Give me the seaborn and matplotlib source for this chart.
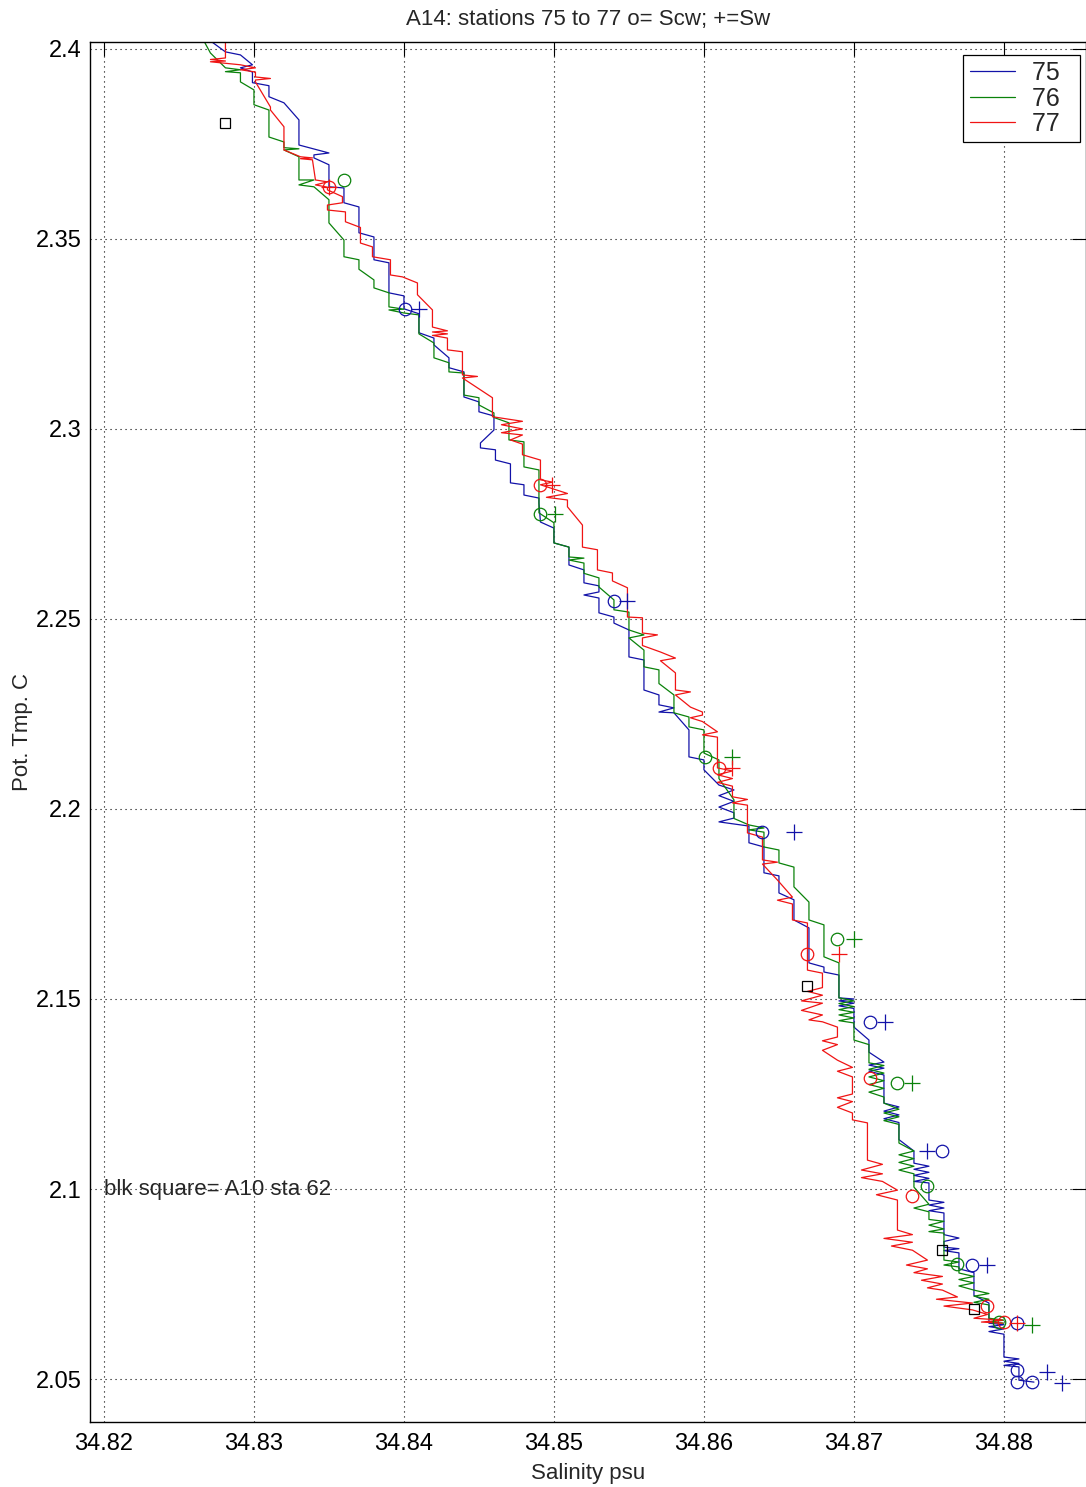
import numpy as np
import pandas as pd
import matplotlib
matplotlib.use("Agg")
import matplotlib.pyplot as plt
import seaborn as sns
from matplotlib.lines import Line2D

# station 75 (blue) salinity / potential temperature trace
sal_75 = [34.8272, 34.8281, 34.8291, 34.8299, 34.8291, 34.8299, 34.8299, 34.8310, 34.8310, 34.8320,
          34.8330, 34.8330, 34.8350, 34.8340, 34.8340, 34.8350, 34.8350, 34.8360, 34.8360, 34.8370,
          34.8370, 34.8380, 34.8380, 34.8390, 34.8390, 34.8400, 34.8400, 34.8410, 34.8410, 34.8420,
          34.8420, 34.8430, 34.8430, 34.8440, 34.8440, 34.8450, 34.8450, 34.8460, 34.8460, 34.8451,
          34.8451, 34.8461, 34.8461, 34.8471, 34.8471, 34.8480, 34.8480, 34.8490, 34.8490, 34.8491,
          34.8500, 34.8500, 34.8510, 34.8510, 34.8520, 34.8520, 34.8530, 34.8530, 34.8520, 34.8530,
          34.8530, 34.8540, 34.8540, 34.8550, 34.8550, 34.8560, 34.8560, 34.8570, 34.8570, 34.8580,
          34.8570, 34.8580, 34.8590, 34.8590, 34.8600, 34.8600, 34.8610, 34.8620, 34.8610, 34.8620,
          34.8610, 34.8620, 34.8620, 34.8610, 34.8630, 34.8630, 34.8640, 34.8640, 34.8650, 34.8650,
          34.8660, 34.8660, 34.8670, 34.8670, 34.8680, 34.8680, 34.8690, 34.8690, 34.8700, 34.8690,
          34.8700, 34.8690, 34.8700, 34.8700, 34.8710, 34.8710, 34.8720, 34.8710, 34.8720, 34.8710,
          34.8720, 34.8720, 34.8730, 34.8720, 34.8730, 34.8720, 34.8730, 34.8730, 34.8730, 34.8740,
          34.8740, 34.8750, 34.8740, 34.8750, 34.8740, 34.8750, 34.8740, 34.8750, 34.8750, 34.8760,
          34.8750, 34.8760, 34.8750, 34.8760, 34.8760, 34.8770, 34.8760, 34.8760, 34.8770, 34.8760,
          34.8770, 34.8770, 34.8780, 34.8780, 34.8790, 34.8790, 34.8800, 34.8790, 34.8800, 34.8790,
          34.8800, 34.8800, 34.8810, 34.8800, 34.8810, 34.8800, 34.8810, 34.8810, 34.8820]
tmp_75 = [2.4018, 2.3992, 2.3984, 2.3958, 2.3950, 2.3939, 2.3911, 2.3903, 2.3874, 2.3858,
          2.3813, 2.3747, 2.3726, 2.3721, 2.3713, 2.3695, 2.3637, 2.3634, 2.3595, 2.3584,
          2.3516, 2.3505, 2.3445, 2.3437, 2.3358, 2.3350, 2.3316, 2.3303, 2.3253, 2.3239,
          2.3221, 2.3187, 2.3161, 2.3150, 2.3084, 2.3071, 2.3045, 2.3034, 2.2997, 2.2963,
          2.2950, 2.2945, 2.2918, 2.2908, 2.2858, 2.2853, 2.2826, 2.2818, 2.2805, 2.2755,
          2.2739, 2.2700, 2.2689, 2.2642, 2.2629, 2.2595, 2.2587, 2.2571, 2.2563, 2.2555,
          2.2516, 2.2505, 2.2489, 2.2471, 2.2400, 2.2392, 2.2313, 2.2300, 2.2274, 2.2266,
          2.2255, 2.2253, 2.2208, 2.2137, 2.2129, 2.2103, 2.2063, 2.2050, 2.2035, 2.2020,
          2.2005, 2.1990, 2.1976, 2.1966, 2.1955, 2.1911, 2.1900, 2.1832, 2.1824, 2.1779,
          2.1761, 2.1708, 2.1687, 2.1595, 2.1584, 2.1571, 2.1563, 2.1503, 2.1500, 2.1495,
          2.1489, 2.1482, 2.1475, 2.1426, 2.1392, 2.1360, 2.1334, 2.1326, 2.1318, 2.1310,
          2.1300, 2.1226, 2.1216, 2.1205, 2.1195, 2.1185, 2.1175, 2.1163, 2.1130, 2.1100,
          2.1068, 2.1060, 2.1052, 2.1044, 2.1036, 2.1028, 2.1020, 2.1016, 2.0971, 2.0965,
          2.0958, 2.0950, 2.0943, 2.0937, 2.0880, 2.0871, 2.0862, 2.0847, 2.0843, 2.0838,
          2.0832, 2.0790, 2.0780, 2.0720, 2.0700, 2.0647, 2.0643, 2.0638, 2.0632, 2.0625,
          2.0618, 2.0558, 2.0553, 2.0547, 2.0541, 2.0536, 2.0532, 2.0497, 2.0492]

# station 76 (green)
sal_76 = [34.8267, 34.8271, 34.8281, 34.8291, 34.8281, 34.8291, 34.8291, 34.8300, 34.8300, 34.8310,
          34.8310, 34.8320, 34.8320, 34.8330, 34.8320, 34.8330, 34.8330, 34.8340, 34.8330, 34.8340,
          34.8350, 34.8350, 34.8360, 34.8360, 34.8370, 34.8370, 34.8380, 34.8380, 34.8390, 34.8390,
          34.8400, 34.8390, 34.8400, 34.8410, 34.8410, 34.8420, 34.8420, 34.8430, 34.8430, 34.8440,
          34.8440, 34.8450, 34.8450, 34.8460, 34.8460, 34.8470, 34.8470, 34.8480, 34.8480, 34.8490,
          34.8490, 34.8500, 34.8500, 34.8510, 34.8510, 34.8520, 34.8510, 34.8520, 34.8520, 34.8530,
          34.8530, 34.8540, 34.8540, 34.8550, 34.8550, 34.8560, 34.8550, 34.8560, 34.8560, 34.8570,
          34.8570, 34.8580, 34.8580, 34.8590, 34.8590, 34.8600, 34.8600, 34.8610, 34.8610, 34.8620,
          34.8620, 34.8630, 34.8640, 34.8630, 34.8640, 34.8640, 34.8650, 34.8650, 34.8660, 34.8660,
          34.8670, 34.8670, 34.8680, 34.8680, 34.8690, 34.8690, 34.8700, 34.8690, 34.8700, 34.8690,
          34.8700, 34.8690, 34.8700, 34.8690, 34.8700, 34.8700, 34.8710, 34.8710, 34.8720, 34.8710,
          34.8720, 34.8710, 34.8720, 34.8710, 34.8720, 34.8710, 34.8720, 34.8720, 34.8730, 34.8720,
          34.8730, 34.8720, 34.8730, 34.8730, 34.8740, 34.8730, 34.8740, 34.8730, 34.8740, 34.8730,
          34.8740, 34.8740, 34.8750, 34.8740, 34.8750, 34.8750, 34.8760, 34.8750, 34.8760, 34.8750,
          34.8760, 34.8760, 34.8760, 34.8770, 34.8760, 34.8770, 34.8770, 34.8780, 34.8770, 34.8780,
          34.8770, 34.8780, 34.8790, 34.8780, 34.8790, 34.8780, 34.8790, 34.8790, 34.8800, 34.8790,
          34.8800]
tmp_76 = [2.4018, 2.3989, 2.3950, 2.3945, 2.3940, 2.3937, 2.3913, 2.3892, 2.3853, 2.3839,
          2.3768, 2.3755, 2.3740, 2.3737, 2.3734, 2.3716, 2.3655, 2.3655, 2.3642, 2.3637,
          2.3603, 2.3542, 2.3497, 2.3453, 2.3445, 2.3420, 2.3392, 2.3371, 2.3358, 2.3321,
          2.3315, 2.3313, 2.3305, 2.3300, 2.3250, 2.3226, 2.3187, 2.3174, 2.3150, 2.3147,
          2.3089, 2.3082, 2.3063, 2.3042, 2.3030, 2.3016, 2.2971, 2.2966, 2.2900, 2.2892,
          2.2779, 2.2753, 2.2700, 2.2689, 2.2663, 2.2660, 2.2655, 2.2647, 2.2620, 2.2608,
          2.2584, 2.2550, 2.2524, 2.2518, 2.2471, 2.2458, 2.2450, 2.2418, 2.2374, 2.2366,
          2.2330, 2.2300, 2.2253, 2.2242, 2.2216, 2.2208, 2.2147, 2.2129, 2.2080, 2.2024,
          2.1975, 2.1958, 2.1950, 2.1945, 2.1939, 2.1900, 2.1892, 2.1858, 2.1847, 2.1795,
          2.1755, 2.1708, 2.1695, 2.1611, 2.1595, 2.1503, 2.1495, 2.1488, 2.1480, 2.1472,
          2.1465, 2.1458, 2.1450, 2.1443, 2.1437, 2.1392, 2.1380, 2.1332, 2.1325, 2.1315,
          2.1305, 2.1295, 2.1285, 2.1275, 2.1265, 2.1255, 2.1242, 2.1226, 2.1210, 2.1200,
          2.1190, 2.1180, 2.1170, 2.1121, 2.1100, 2.1090, 2.1080, 2.1070, 2.1060, 2.1050,
          2.1040, 2.1005, 2.0960, 2.0950, 2.0940, 2.0920, 2.0915, 2.0905, 2.0895, 2.0888,
          2.0884, 2.0858, 2.0813, 2.0808, 2.0800, 2.0795, 2.0779, 2.0770, 2.0762, 2.0753,
          2.0745, 2.0734, 2.0725, 2.0718, 2.0710, 2.0702, 2.0695, 2.0660, 2.0655, 2.0650,
          2.0647]

# station 77 (red)
sal_77 = [34.8281, 34.8281, 34.8271, 34.8281, 34.8271, 34.8291, 34.8301, 34.8291, 34.8301, 34.8301,
          34.8311, 34.8301, 34.8301, 34.8311, 34.8311, 34.8320, 34.8320, 34.8331, 34.8339, 34.8331,
          34.8339, 34.8341, 34.8349, 34.8341, 34.8349, 34.8349, 34.8359, 34.8359, 34.8349, 34.8349,
          34.8361, 34.8361, 34.8371, 34.8371, 34.8379, 34.8379, 34.8391, 34.8391, 34.8399, 34.8409,
          34.8409, 34.8419, 34.8419, 34.8429, 34.8419, 34.8429, 34.8419, 34.8429, 34.8429, 34.8439,
          34.8439, 34.8449, 34.8439, 34.8459, 34.8459, 34.8479, 34.8465, 34.8479, 34.8465, 34.8479,
          34.8471, 34.8479, 34.8479, 34.8491, 34.8491, 34.8499, 34.8491, 34.8509, 34.8495, 34.8509,
          34.8509, 34.8519, 34.8519, 34.8529, 34.8529, 34.8539, 34.8539, 34.8549, 34.8549, 34.8559,
          34.8559, 34.8569, 34.8559, 34.8559, 34.8571, 34.8581, 34.8571, 34.8581, 34.8581, 34.8591,
          34.8581, 34.8591, 34.8599, 34.8599, 34.8591, 34.8599, 34.8609, 34.8599, 34.8609, 34.8609,
          34.8619, 34.8609, 34.8619, 34.8609, 34.8619, 34.8619, 34.8629, 34.8619, 34.8629, 34.8629,
          34.8639, 34.8639, 34.8649, 34.8639, 34.8649, 34.8659, 34.8649, 34.8659, 34.8659, 34.8669,
          34.8669, 34.8679, 34.8679, 34.8669, 34.8679, 34.8665, 34.8679, 34.8665, 34.8679, 34.8670,
          34.8679, 34.8689, 34.8689, 34.8679, 34.8689, 34.8679, 34.8689, 34.8699, 34.8689, 34.8699,
          34.8699, 34.8689, 34.8699, 34.8689, 34.8699, 34.8699, 34.8709, 34.8709, 34.8719, 34.8705,
          34.8719, 34.8705, 34.8719, 34.8729, 34.8715, 34.8729, 34.8729, 34.8739, 34.8720, 34.8739,
          34.8725, 34.8739, 34.8749, 34.8735, 34.8749, 34.8740, 34.8759, 34.8745, 34.8759, 34.8749,
          34.8759, 34.8769, 34.8755, 34.8779, 34.8760, 34.8779, 34.8789, 34.8780, 34.8799, 34.8785,
          34.8799]
tmp_77 = [2.4018, 2.3976, 2.3972, 2.3968, 2.3966, 2.3958, 2.3950, 2.3945, 2.3939, 2.3926,
          2.3922, 2.3918, 2.3913, 2.3847, 2.3839, 2.3795, 2.3734, 2.3716, 2.3713, 2.3711,
          2.3708, 2.3655, 2.3650, 2.3642, 2.3636, 2.3629, 2.3611, 2.3595, 2.3589, 2.3576,
          2.3571, 2.3545, 2.3530, 2.3489, 2.3479, 2.3453, 2.3445, 2.3405, 2.3400, 2.3384,
          2.3353, 2.3313, 2.3268, 2.3258, 2.3255, 2.3250, 2.3246, 2.3239, 2.3208, 2.3203,
          2.3142, 2.3138, 2.3134, 2.3082, 2.3032, 2.3020, 2.3011, 2.3000, 2.2990, 2.2984,
          2.2971, 2.2960, 2.2932, 2.2918, 2.2866, 2.2860, 2.2853, 2.2830, 2.2820, 2.2813,
          2.2795, 2.2747, 2.2689, 2.2682, 2.2629, 2.2621, 2.2600, 2.2582, 2.2505, 2.2503,
          2.2463, 2.2458, 2.2450, 2.2430, 2.2413, 2.2397, 2.2390, 2.2358, 2.2313, 2.2308,
          2.2300, 2.2268, 2.2255, 2.2247, 2.2240, 2.2230, 2.2203, 2.2195, 2.2189, 2.2108,
          2.2100, 2.2090, 2.2080, 2.2070, 2.2060, 2.2032, 2.2025, 2.2016, 2.2010, 2.1937,
          2.1926, 2.1866, 2.1860, 2.1855, 2.1813, 2.1768, 2.1760, 2.1750, 2.1708, 2.1700,
          2.1576, 2.1568, 2.1530, 2.1520, 2.1510, 2.1495, 2.1489, 2.1470, 2.1458, 2.1445,
          2.1440, 2.1426, 2.1400, 2.1390, 2.1380, 2.1365, 2.1339, 2.1320, 2.1310, 2.1295,
          2.1250, 2.1240, 2.1230, 2.1215, 2.1200, 2.1182, 2.1174, 2.1076, 2.1065, 2.1050,
          2.1040, 2.1030, 2.1020, 2.0997, 2.0985, 2.0971, 2.0892, 2.0880, 2.0870, 2.0860,
          2.0850, 2.0839, 2.0813, 2.0800, 2.0790, 2.0780, 2.0770, 2.0760, 2.0750, 2.0740,
          2.0734, 2.0716, 2.0710, 2.0700, 2.0692, 2.0682, 2.0670, 2.0660, 2.0655, 2.0650,
          2.0647]

# bottle samples: o = Scw, + = Sw
scw_sal = {"75": [34.8401, 34.8540, 34.8639, 34.8711, 34.8759, 34.8779, 34.8809, 34.8809, 34.8809, 34.8819],
           "76": [34.8360, 34.8491, 34.8601, 34.8689, 34.8729, 34.8749, 34.8769, 34.8797],
           "77": [34.8350, 34.8491, 34.8610, 34.8669, 34.8711, 34.8739, 34.8789, 34.8800]}
scw_tmp = {"75": [2.3316, 2.2547, 2.1939, 2.1439, 2.1100, 2.0800, 2.0647, 2.0524, 2.0492, 2.0492],
           "76": [2.3655, 2.2776, 2.2137, 2.1658, 2.1279, 2.1008, 2.0803, 2.0650],
           "77": [2.3637, 2.2853, 2.2108, 2.1618, 2.1292, 2.0982, 2.0692, 2.0650]}
sw_sal = {"75": [34.8410, 34.8549, 34.8660, 34.8721, 34.8749, 34.8789, 34.8829, 34.8839],
          "76": [34.8501, 34.8619, 34.8700, 34.8739, 34.8819],
          "77": [34.8350, 34.8499, 34.8619, 34.8690, 34.8809]}
sw_tmp = {"75": [2.3316, 2.2547, 2.1939, 2.1439, 2.1100, 2.0800, 2.0518, 2.0489],
          "76": [2.2776, 2.2137, 2.1658, 2.1279, 2.0642],
          "77": [2.3637, 2.2853, 2.2108, 2.1618, 2.0647]}

# A10 station 62 (black squares)
a10_sal = [34.8281, 34.8669, 34.8759, 34.8780]
a10_tmp = [2.3805, 2.1534, 2.0839, 2.0684]

stations = ["75", "76", "77"]
colors = {"75": "#1212a8", "76": "#0a820a", "77": "#f01414"}

x_ticks = [34.82, 34.83, 34.84, 34.85, 34.86, 34.87, 34.88]
x_labels = ["34.82", "34.83", "34.84", "34.85", "34.86", "34.87", "34.88"]
y_ticks = [2.05, 2.1, 2.15, 2.2, 2.25, 2.3, 2.35, 2.4]
y_labels = ["2.05", "2.1", "2.15", "2.2", "2.25", "2.3", "2.35", "2.4"]

frames = []
for st, s, t in zip(stations, [sal_75, sal_76, sal_77], [tmp_75, tmp_76, tmp_77]):
    assert len(s) == len(t), st
    frames.append(pd.DataFrame({"sal": s, "tmp": t, "station": st}))
profiles = pd.concat(frames, ignore_index=True)

sns.set_style("white")
plt.rcParams["font.family"] = ["Liberation Sans", "DejaVu Sans"]

fig = plt.figure(figsize=(10.86, 14.87), dpi=100)
ax = fig.add_axes([90 / 1086, 65 / 1487, 996 / 1086, 1380 / 1487])

sns.lineplot(data=profiles, x="sal", y="tmp", hue="station", palette=colors,
             sort=False, estimator=None, lw=0.9, legend=False, ax=ax)

for st in stations:
    ax.plot(scw_sal[st], scw_tmp[st], ls="none", marker="o", ms=9, mfc="none",
            mec=colors[st], mew=0.9)
    ax.plot(sw_sal[st], sw_tmp[st], ls="none", marker="+", ms=11,
            mec=colors[st], mew=0.9)
ax.plot(a10_sal, a10_tmp, ls="none", marker="s", ms=7, mfc="none", mec="k", mew=0.9)

ax.set_xlim(34.81907, 34.88547)
ax.set_ylim(2.0387, 2.4018)
ax.set_xticks(x_ticks)
ax.set_xticklabels(x_labels)
ax.set_yticks(y_ticks)
ax.set_yticklabels(y_labels)
ax.grid(True, color="k", lw=0.8, dashes=(1, 3.5))
ax.tick_params(direction="in", length=10, width=0.8, top=True, right=True,
               labelsize=17, colors="k")
ax.tick_params(axis="x", pad=8)
ax.tick_params(axis="y", pad=6)
for sp in ax.spines.values():
    sp.set_color("k")
    sp.set_linewidth(1.0)

ax.set_title("A14: stations 75 to 77 o= Scw; +=Sw", fontsize=16, pad=12)
ax.set_xlabel("Salinity psu", fontsize=16, labelpad=6)
ax.set_ylabel("Pot. Tmp. C", fontsize=16, labelpad=2)
ax.text(34.82, 2.1, "blk square= A10 sta 62", fontsize=16, ha="left", va="center")

handles = [Line2D([], [], color=colors[st], lw=0.9) for st in stations]
leg = ax.legend(handles, [st + "  " for st in stations], loc="upper right",
                bbox_to_anchor=(0.994, 0.9906),
                fontsize=18, frameon=True, fancybox=False, framealpha=1,
                edgecolor="k", handlelength=1.8, labelspacing=0.06, borderpad=0.25,
                handletextpad=0.7, borderaxespad=0)
leg.get_frame().set_linewidth(0.9)

fig.savefig("out.png", dpi=100)
